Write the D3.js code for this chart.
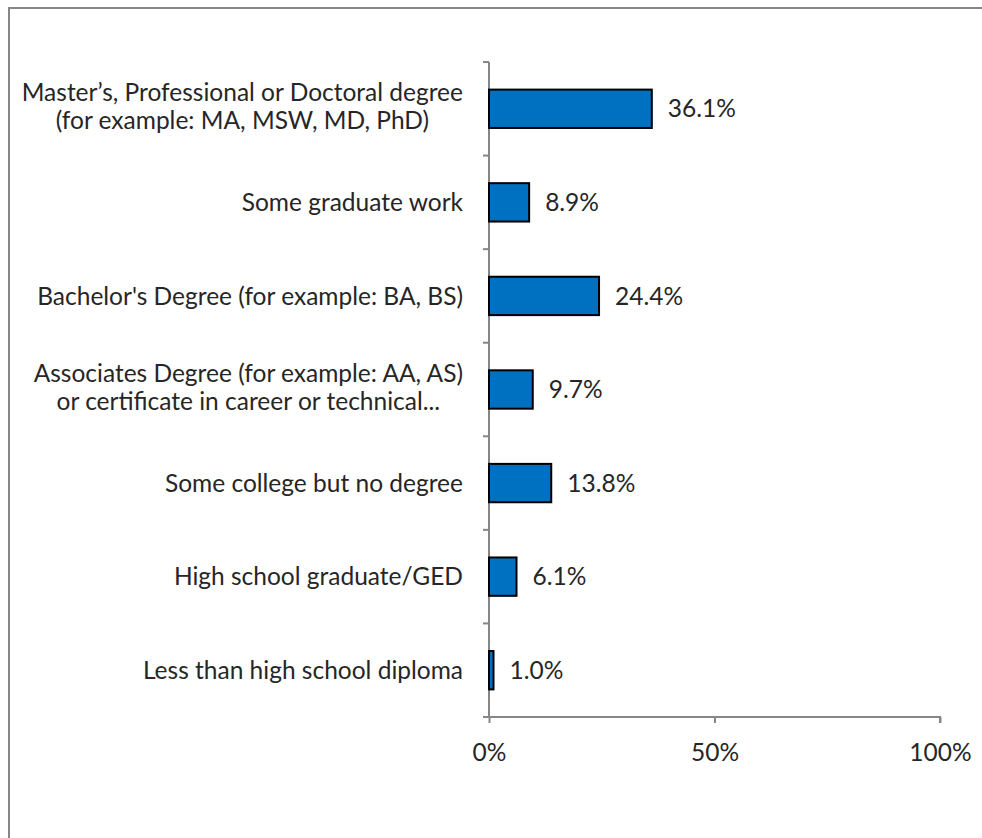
<!DOCTYPE html>
<html>
<head>
<meta charset="utf-8">
<script src="https://cdn.jsdelivr.net/npm/d3@7"></script>
<style>
  html, body { margin: 0; padding: 0; background: #fff; }
  svg { display: block; }
  text { font-family: Lato, "Open Sans", sans-serif; fill: #262626; }
</style>
</head>
<body>
<script>
// Highest level of education, share of respondents
const categories = [
  ["Master\u2019s, Professional or Doctoral degree", "(for example: MA, MSW, MD, PhD)"],
  ["Some graduate work"],
  ["Bachelor's Degree (for example: BA, BS)"],
  ["Associates Degree (for example: AA, AS)", "or certificate in career or technical..."],
  ["Some college but no degree"],
  ["High school graduate/GED"],
  ["Less than high school diploma"]
];
const values = [36.1, 8.9, 24.4, 9.7, 13.8, 6.1, 1.0];
const tickValues = [0, 50, 100];

const W = 982, H = 838;
const margin = { left: 489, right: 42, top: 62, bottom: 121 };
const fontSize = 24.5;

const svg = d3.select("body").append("svg").attr("width", W).attr("height", H);

// chart frame (extends past the right and bottom edges)
svg.append("rect")
  .attr("x", 9).attr("y", 8)
  .attr("width", W + 20).attr("height", H + 20)
  .attr("fill", "#fff").attr("stroke", "#868686").attr("stroke-width", 2);

const x = d3.scaleLinear().domain([0, 100]).range([margin.left, W - margin.right]);
const y = d3.scaleBand().domain(d3.range(categories.length))
  .range([margin.top, H - margin.bottom]).paddingInner(0.59).paddingOuter(0.295);

const axisY = H - margin.bottom;
const gray = "#868686";

// category axis line and tick marks between categories
svg.append("line")
  .attr("x1", x(0)).attr("x2", x(0)).attr("y1", margin.top).attr("y2", axisY)
  .attr("stroke", gray).attr("stroke-width", 2);
d3.range(categories.length + 1).forEach(i => {
  const yy = margin.top + i * (axisY - margin.top) / categories.length;
  svg.append("line").attr("x1", x(0) - 6).attr("x2", x(0)).attr("y1", yy).attr("y2", yy)
    .attr("stroke", gray).attr("stroke-width", 2);
});

// value axis
const xAxis = d3.axisBottom(x).tickValues(tickValues).tickFormat(d => d + "%")
  .tickSize(6).tickPadding(21);
const gx = svg.append("g").attr("transform", `translate(0,${axisY})`).call(xAxis);
gx.select(".domain").attr("d", `M${x(0) - 6},0H${x(100)}V6`).attr("stroke", gray).attr("stroke-width", 2).attr("fill", "none");
gx.selectAll(".tick line").attr("stroke", gray).attr("stroke-width", 2);
gx.selectAll(".tick text").attr("font-size", fontSize).attr("font-family", "Lato, sans-serif").attr("fill", "#262626");

// bars
svg.selectAll("rect.bar").data(values).join("rect")
  .attr("class", "bar")
  .attr("x", x(0))
  .attr("y", (d, i) => y(i))
  .attr("width", d => x(d) - x(0))
  .attr("height", y.bandwidth())
  .attr("fill", "#0070C0").attr("stroke", "#000").attr("stroke-width", 2);

// value labels
svg.selectAll("text.val").data(values).join("text")
  .attr("class", "val")
  .attr("x", d => x(d) + 16)
  .attr("y", (d, i) => y(i) + y.bandwidth() / 2)
  .attr("dy", "0.35em")
  .attr("font-size", fontSize)
  .text(d => d.toFixed(1) + "%");

// category labels: block right-aligned to the axis, lines centred within the block
const lineH = 28;
const labelRight = x(0) - 26;
categories.forEach((lines, i) => {
  const cy = y(i) + y.bandwidth() / 2 - (lines.length > 1 ? 2 : 0);
  const t = svg.append("text").attr("font-size", fontSize)
    .attr("y", cy - (lines.length - 1) * lineH / 2);
  const spans = lines.map((s, j) =>
    t.append("tspan").attr("dy", j === 0 ? "0.35em" : lineH).text(s));
  const widths = spans.map(sp => sp.node().getComputedTextLength());
  const blockW = d3.max(widths);
  const centre = labelRight - blockW / 2;
  spans.forEach(sp => sp.attr("x", centre).attr("text-anchor", "middle"));
});
</script>
</body>
</html>
